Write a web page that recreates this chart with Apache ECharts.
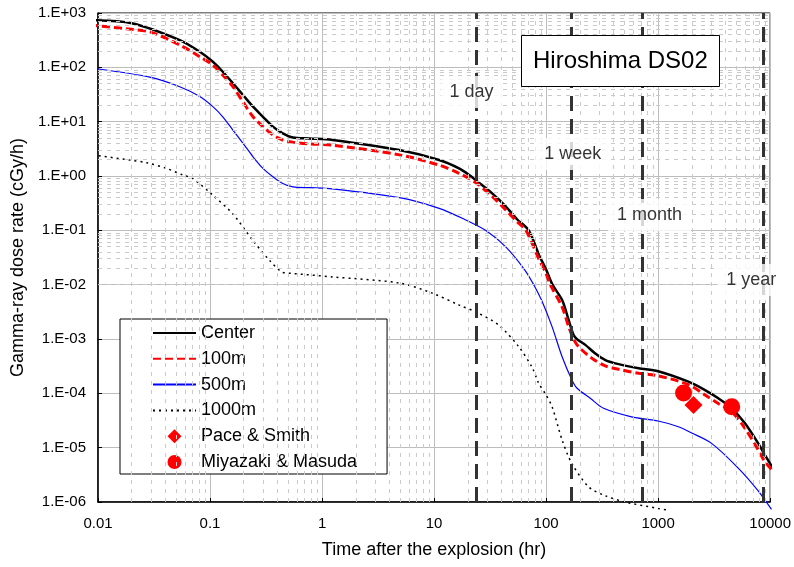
<!DOCTYPE html>
<html>
<head>
<meta charset="utf-8">
<script src="https://cdn.jsdelivr.net/npm/echarts@6/dist/echarts.min.js"></script>
<style>
  html, body { margin: 0; padding: 0; background: #fff; }
  #chart { width: 794px; height: 567px; }
</style>
</head>
<body>
<div id="chart"></div>
<script>
// values: [time (hr), dose rate (cGy/h)]
const centerData = [[0.0085, 740], [0.02, 650], [0.0537, 318], [0.081, 194], [0.106, 127], [0.13, 83], [0.16, 51], [0.197, 31], [0.242, 18.9], [0.297, 12.3], [0.364, 8.1], [0.446, 6.1], [0.55, 5.1], [0.77, 4.9], [1.24, 4.6], [4.9, 3.0], [11.1, 1.97], [16.7, 1.38], [21.2, 1.0], [23.5, 0.84], [33, 0.48], [43.4, 0.28], [55, 0.16], [70, 0.1], [86, 0.036], [100, 0.019], [114, 0.01], [139, 0.0052], [159, 0.00224], [176, 0.00118], [189, 0.00099], [224, 0.00078], [275, 0.00054], [338, 0.00041], [444, 0.000345], [668, 0.00029], [1000, 0.000255], [1860, 0.000164], [2624, 0.000115], [3444, 0.000081], [4540, 0.000053], [5960, 0.000028], [7820, 0.000012], [9000, 7.3e-6], [11800, 2.9e-6]];
const m100Data = [[0.0085, 600], [0.02, 500], [0.03, 440], [0.0537, 258], [0.081, 157], [0.106, 110], [0.13, 72], [0.16, 44], [0.197, 23], [0.242, 12.3], [0.297, 8.1], [0.364, 5.7], [0.446, 4.6], [0.55, 4.2], [0.77, 3.9], [1.24, 3.7], [4.9, 2.45], [11.1, 1.59], [16.7, 1.12], [23.5, 0.76], [33, 0.42], [43.4, 0.24], [55, 0.145], [66, 0.1], [86, 0.03], [100, 0.016], [109, 0.01], [139, 0.0039], [159, 0.00169], [176, 0.001], [195, 0.00072], [257, 0.00044], [338, 0.00032], [444, 0.000277], [668, 0.000234], [1000, 0.00021], [1860, 0.000145], [2624, 0.000093], [3444, 0.000065], [4540, 0.000046], [5960, 0.0000227], [7820, 9.1e-6], [9000, 5.5e-6], [11800, 2.9e-6]];
const m500Data = [[0.0085, 98], [0.029, 66], [0.0537, 44], [0.081, 29], [0.106, 18.9], [0.13, 12.3], [0.16, 7.0], [0.197, 4.0], [0.242, 2.26], [0.297, 1.38], [0.364, 0.97], [0.446, 0.73], [0.55, 0.63], [0.77, 0.61], [1.24, 0.58], [4.9, 0.4], [11.1, 0.254], [19.2, 0.155], [28.8, 0.1], [43.4, 0.05], [64.6, 0.0186], [77.5, 0.01], [91, 0.0052], [113, 0.00169], [139, 0.00047], [170, 0.000176], [189, 0.000124], [248, 0.000081], [326, 0.000053], [579, 0.000037], [1000, 0.000031], [1517, 0.0000243], [1995, 0.0000186], [3000, 0.000012], [5190, 4.2e-6], [7820, 1.6e-6], [10280, 7.3e-7]];
const m1000Data = [[0.009, 2.45], [0.0193, 1.96], [0.0271, 1.76], [0.0409, 1.38], [0.0574, 1.04], [0.07, 0.9], [0.105, 0.45], [0.16, 0.2], [0.24, 0.066], [0.34, 0.028], [0.44, 0.017], [0.51, 0.0163], [1.24, 0.0139], [4.9, 0.0107], [9.6, 0.007], [16.8, 0.0042], [24, 0.0031], [37.8, 0.0018], [57, 0.00072], [75, 0.0003], [86, 0.000153], [99.5, 0.000095], [113, 0.000057], [139, 0.0000138], [170, 5.1e-6], [240, 1.9e-6], [338, 1.3e-6], [508, 1.0e-6], [1006, 7.6e-7], [1230, 7.1e-7]];
const paceSmith = [[2070, 6.1e-5]];
const miyazakiMasuda = [[1687, 1.01e-4], [4540, 5.67e-5]];

const milestones = [24, 168, 720, 8760];
const milestoneLabels = [[21.6, 35.2, '1 day'], [172.8, 2.54, '1 week'], [837, 0.191, '1 month'], [6776, 0.0122, '1 year']];

const xMin = 0.01, xMax = 10000;
const yMin = 1e-6, yMax = 1000;

const font = 'Arial, "Liberation Sans", sans-serif';

// minor grid positions 2..9 within each decade
function minorValues(min, max) {
  const out = [];
  for (let e = Math.round(Math.log10(min)); e < Math.round(Math.log10(max)); e++) {
    for (let k = 2; k <= 9; k++) out.push(k * Math.pow(10, e));
  }
  return out;
}
const minorLines = minorValues(xMin, xMax).map(v => ({ xAxis: v }))
  .concat(minorValues(yMin, yMax).map(v => ({ yAxis: v })));

// line entries in the legend: hide the symbol that echarts adds to line icons
const noSymbol = { color: 'transparent', borderWidth: 0, opacity: 0 };
const diamondIcon = 'path://M0,-1L1,0L0,1L-1,0Z';

const chart = echarts.init(document.getElementById('chart'));
const option = {
  animation: false,
  textStyle: { fontFamily: font },
  title: {
    text: 'Hiroshima DS02',
    left: 521,
    top: 35,
    padding: [14, 12],
    borderColor: '#000',
    borderWidth: 1,
    backgroundColor: '#fff',
    textStyle: { fontFamily: font, fontSize: 24, fontWeight: 'normal', color: '#000' }
  },
  legend: {
    data: [
      { name: 'Center', itemStyle: noSymbol },
      { name: '100m', itemStyle: noSymbol },
      { name: '500m', itemStyle: noSymbol },
      { name: '1000m', itemStyle: noSymbol },
      { name: 'Pace & Smith', icon: diamondIcon },
      { name: 'Miyazaki & Masuda', icon: 'circle' }
    ],
    orient: 'vertical',
    left: 120,
    top: 319,
    padding: [5, 30, 3, 32],
    itemWidth: 43,
    itemHeight: 14,
    itemGap: 7.8,
    symbolKeepAspect: true,
    backgroundColor: '#fff',
    borderColor: '#000',
    borderWidth: 1,
    selectedMode: false,
    textStyle: { fontFamily: font, fontSize: 18, color: '#000' }
  },
  grid: {
    left: 98, right: 22, top: 13, bottom: 65,
    show: true,
    borderColor: '#000',
    borderWidth: 1
  },
  xAxis: {
    type: 'log',
    logBase: 10,
    min: xMin,
    max: xMax,
    name: 'Time after the explosion (hr)',
    nameLocation: 'middle',
    nameGap: 39,
    nameTextStyle: { fontFamily: font, fontSize: 18, color: '#000' },
    axisLine: { lineStyle: { color: '#000', width: 1.5 } },
    axisTick: { inside: true, length: 4, lineStyle: { color: '#000' } },
    axisLabel: {
      margin: 14, fontSize: 15, color: '#000', fontFamily: font,
      formatter: v => v < 1 ? v.toFixed(Math.round(-Math.log10(v))) : String(Math.round(v))
    },
    splitLine: { show: true, lineStyle: { color: '#bdbdbd', width: 1 } }
  },
  yAxis: {
    type: 'log',
    logBase: 10,
    min: yMin,
    max: yMax,
    name: 'Gamma-ray dose rate (cGy/h)',
    nameLocation: 'middle',
    nameGap: 71,
    nameTextStyle: { fontFamily: font, fontSize: 18, color: '#000' },
    axisLine: { lineStyle: { color: '#000', width: 1.5 } },
    axisTick: { inside: true, length: 4, lineStyle: { color: '#000' } },
    axisLabel: {
      margin: 12, fontSize: 15, color: '#000', fontFamily: font,
      formatter: v => {
        const e = Math.round(Math.log10(v));
        return '1.E' + (e < 0 ? '-' : '+') + String(Math.abs(e)).padStart(2, '0');
      }
    },
    splitLine: { show: true, lineStyle: { color: '#bdbdbd', width: 1 } }
  },
  series: [
    {
      type: 'line',
      data: [],
      z: 1,
      silent: true,
      markLine: {
        silent: true,
        symbol: ['none', 'none'],
        label: { show: false },
        emphasis: { disabled: true },
        lineStyle: { color: '#cacaca', width: 1, type: [4, 5] },
        data: minorLines
      }
    },
    {
      type: 'line',
      data: [],
      z: 2,
      silent: true,
      markLine: {
        silent: true,
        symbol: ['none', 'none'],
        label: { show: false },
        emphasis: { disabled: true },
        lineStyle: { color: '#333', width: 3, type: [15, 8] },
        data: milestones.map(v => ({ xAxis: v }))
      }
    },
    {
      type: 'scatter',
      data: milestoneLabels,
      z: 6,
      silent: true,
      symbolSize: 1,
      itemStyle: { color: 'transparent' },
      label: {
        show: true,
        position: 'inside',
        formatter: p => p.data[2],
        backgroundColor: '#fff',
        padding: [7, 9],
        fontSize: 18,
        fontFamily: font,
        color: '#000'
      }
    },
    {
      name: 'Center', type: 'line', data: centerData, z: 4,
      symbol: 'none', smooth: 0.3, clip: false,
      lineStyle: { color: '#000', width: 2.5 }, itemStyle: { color: '#000' }
    },
    {
      name: '100m', type: 'line', data: m100Data, z: 4,
      symbol: 'none', smooth: 0.3, clip: false,
      lineStyle: { color: '#ff0000', width: 3, type: [8, 4] }, itemStyle: { color: '#ff0000' }
    },
    {
      name: '500m', type: 'line', data: m500Data, z: 4,
      symbol: 'none', smooth: 0.3, clip: false,
      lineStyle: { color: '#0000ff', width: 1.2 }, itemStyle: { color: '#0000ff' }
    },
    {
      name: '1000m', type: 'line', data: m1000Data, z: 4,
      symbol: 'none', smooth: 0.3, clip: false,
      lineStyle: { color: '#000', width: 1.5, type: [2, 4] }, itemStyle: { color: '#000' }
    },
    {
      name: 'Pace & Smith', type: 'scatter', data: paceSmith, z: 5,
      symbol: 'diamond', symbolSize: 18,
      itemStyle: { color: '#ff0000', opacity: 1 }
    },
    {
      name: 'Miyazaki & Masuda', type: 'scatter', data: miyazakiMasuda, z: 5,
      symbol: 'circle', symbolSize: 17,
      itemStyle: { color: '#ff0000', opacity: 1 }
    }
  ]
};
chart.setOption(option);
</script>
</body>
</html>
